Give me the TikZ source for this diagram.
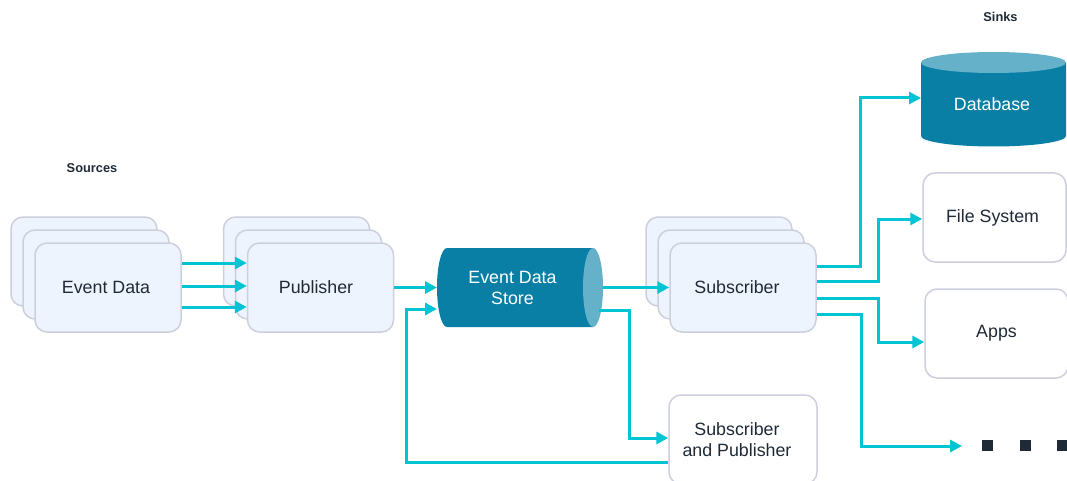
\documentclass[tikz,border=0pt]{standalone}
\usepackage{fontspec}
\setmainfont{Liberation Sans}
\usetikzlibrary{arrows.meta,calc}
\definecolor{flowc}{HTML}{00C3D3}
\definecolor{boxfill}{HTML}{EEF4FE}
\definecolor{boxline}{HTML}{CDCFDD}
\definecolor{txt}{HTML}{1F2A37}
\definecolor{teal}{HTML}{0A7FA6}
\definecolor{tealcap}{HTML}{66B1CA}
\newcommand{\padr}[1]{\rule{#1}{0pt}}
\tikzset{
  card/.style={draw=boxline, line width=1.5pt, fill=boxfill, rounded corners=12pt,
    minimum width=146pt, minimum height=89pt, inner sep=0pt,
    font=\fontsize{17.8pt}{21pt}\selectfont, text=txt, align=center},
  sinkbox/.style={card, fill=white},
  ghost/.style={inner sep=0pt, outer sep=0pt, draw=none},
  flow/.style={draw=flowc, line width=3pt, -{Triangle[length=12pt,width=12pt]}},
  whitetxt/.style={font=\fontsize{17.8pt}{21pt}\selectfont, text=white, align=center, inner sep=0pt},
  heading/.style={font=\bfseries\fontsize{12.8pt}{15pt}\selectfont, text=txt, inner sep=0pt},
  dot/.style={fill=txt, minimum size=11pt, inner sep=0pt, draw=none}
}
\begin{document}
\begin{tikzpicture}[x=1pt,y=-1pt]
\useasboundingbox (0,0) rectangle (1067,481);
\begin{scope}
\clip (0,0) rectangle (1067,481);
% headings
\node[heading] (srcs) at (92,168) {Sources};
\node[heading] (sinks) at (1000.5,17) {Sinks};
% Event Data stack
\node[card] (ed3) at (84,261.5) {};
\node[card] (ed2) at (96,274.5) {};
\node[card] (ed) at (108,287.5) {Event Data\padr{4pt}};
% Publisher stack
\node[card] (pub3) at (296.5,261.5) {};
\node[card] (pub2) at (308.5,274.5) {};
\node[card] (pub) at (320.5,287.5) {Publisher\padr{9pt}};
% Subscriber stack
\node[card] (sub3) at (719,261.5) {};
\node[card] (sub2) at (731,274.5) {};
\node[card] (sub) at (743,287.5) {Subscriber\padr{12pt}};
% Subscriber and Publisher
\node[sinkbox, minimum width=148pt] (sp) at (743,439.5) {Subscriber\padr{12pt}\\and Publisher\padr{12pt}};
% Event Data Store (horizontal cylinder)
\fill[teal] (447,248) -- (593,248) -- (593,327) -- (447,327)
   arc[start angle=90, end angle=270, x radius=10, y radius=39.5] -- cycle;
\fill[tealcap] (593,287.5) ellipse[x radius=10, y radius=39.5];
\node[ghost, minimum width=166pt, minimum height=79pt] (store) at (520,287.5) {};
\node[whitetxt] (storelbl) at (512.5,287.5) {Event Data\\Store};
% Database (vertical cylinder)
\fill[teal] (921,62.5) -- (921,136)
   arc[start angle=180, end angle=0, x radius=72.5, y radius=10.5] -- (1066,62.5) -- cycle;
\fill[tealcap] (993.5,62.5) ellipse[x radius=72.5, y radius=10.5];
\node[ghost, minimum width=145pt, minimum height=95pt] (db) at (993.5,99.5) {};
\node[whitetxt] (dblbl) at (992,104) {Database};
% sinks
\node[sinkbox, minimum width=143pt] (fs) at (994.5,217.5) {File System\padr{4pt}};
\node[sinkbox, minimum width=143pt] (apps) at (996.5,333.5) {Apps};
% dots
\node[dot] (d1) at (987.5,445.5) {};
\node[dot] (d2) at (1025,445.5) {};
\node[dot] (d3) at (1062.5,445.5) {};
\coordinate (dotsend) at (962,446);
% connectors
\draw[flow] (ed.east |- 0,263) -- (pub.west |- 0,263);
\draw[flow] (ed.east |- 0,286) -- (pub.west |- 0,286);
\draw[flow] (ed.east |- 0,307) -- (pub.west |- 0,307);
\draw[flow] (pub.east) -- (store.west);
\draw[flow] (store.east) -- (sub.west);
\draw[flow] ([xshift=-4pt]store.east |- 0,310) -- (629,310) |- (sp.west |- 0,438);
\draw[flow] (sp.west |- 0,462) -- (406,462) |- (store.west |- 0,309);
\draw[flow] (sub.east |- 0,266) -- (860,266) |- (db.west |- 0,98);
\draw[flow] (sub.east |- 0,281) -- (878,281) |- (fs.west |- 0,219);
\draw[flow] (sub.east |- 0,298) -- (878,298) |- (apps.west |- 0,342);
\draw[flow] (sub.east |- 0,314) -- (861,314) |- (dotsend);
\end{scope}
\end{tikzpicture}
\end{document}
